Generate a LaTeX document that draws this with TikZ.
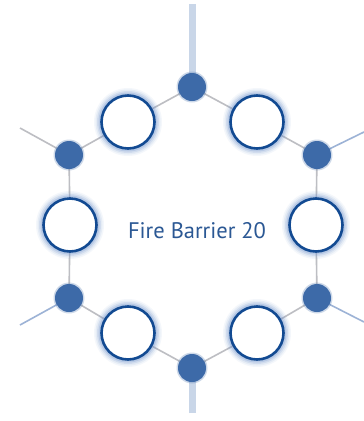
\documentclass[tikz,border=0pt]{standalone}
\usepackage{fontspec}
\setmainfont{PT Sans}
\definecolor{dotblue}{HTML}{3D6AA8}
\definecolor{ringblue}{HTML}{124A92}
\definecolor{glowblue}{HTML}{6F93CC}
\definecolor{textblue}{HTML}{2B5894}
\definecolor{linkgrey}{HTML}{BDBEC3}
\definecolor{stemblue}{HTML}{C9D6E8}
\definecolor{spokeblue}{HTML}{9DB3D6}
\tikzset{
  bigc/.style={circle, draw=ringblue, line width=2.6pt, fill=white, minimum size=53pt, inner sep=0pt},
  smalld/.style={circle, fill=dotblue, minimum size=28pt, inner sep=0pt},
  link/.style={draw=linkgrey, line width=1.6pt},
  stem/.style={draw=stemblue, line width=7pt},
  spoke/.style={draw=spokeblue, line width=1.6pt},
  spokeg/.style={draw=linkgrey, line width=1.6pt},
}
\begin{document}
\begin{tikzpicture}[x=1pt,y=-1pt]
\useasboundingbox[fill=white] (0,0) rectangle (364,421);
% positions
\coordinate (pT) at (192,87);
\coordinate (pTL) at (128,122);
\coordinate (pTR) at (257,122);
\coordinate (pL) at (69,155);
\coordinate (pR) at (317,155);
\coordinate (pCL) at (70,225);
\coordinate (pCR) at (316,225);
\coordinate (pLL) at (69,298);
\coordinate (pLR) at (317,298);
\coordinate (pBL) at (128,333);
\coordinate (pBR) at (257,333);
\coordinate (pB) at (192,368);
% free ends
\coordinate (eT) at (192,4);
\coordinate (eB) at (192,413);
\coordinate (eUL) at (20,128);
\coordinate (eLL) at (20,325);
\coordinate (eUR) at (364,132);
\coordinate (eLR) at (364,322);
% stems and spokes
\draw[stem] (eT) -- (pT);
\draw[stem] (eB) -- (pB);
\draw[spokeg] (eUL) -- (pL);
\draw[spoke] (eLL) -- (pLL);
\draw[spoke] (eUR) -- (pR);
\draw[spoke] (eLR) -- (pLR);
% ring links
\draw[link] (pT) -- (pTL) -- (pL) -- (pCL) -- (pLL) -- (pBL) -- (pB) -- (pBR) -- (pLR) -- (pCR) -- (pR) -- (pTR) -- cycle;
% glow
\foreach \p in {pTL,pTR,pCL,pCR,pBL,pBR}{
  \foreach \r/\o in {34/0.07,32.5/0.11,31/0.17,29.5/0.26}{
    \fill[glowblue, opacity=\o] (\p) circle (\r);
  }
}
\foreach \p in {pT,pL,pR,pLL,pLR,pB}{
  \fill[dotblue, opacity=0.25] (\p) circle (15.5);
}
% nodes
\node[smalld] (nT) at (pT) {};
\node[smalld] (nL) at (pL) {};
\node[smalld] (nR) at (pR) {};
\node[smalld] (nLL) at (pLL) {};
\node[smalld] (nLR) at (pLR) {};
\node[smalld] (nB) at (pB) {};
\node[bigc] (cTL) at (pTL) {};
\node[bigc] (cTR) at (pTR) {};
\node[bigc] (cL) at (pCL) {};
\node[bigc] (cR) at (pCR) {};
\node[bigc] (cBL) at (pBL) {};
\node[bigc] (cBR) at (pBR) {};
\node[text=textblue, font=\fontsize{22.5}{26}\selectfont, inner sep=0pt] (lbl) at (197,231) {Fire Barrier 20};
\end{tikzpicture}
\end{document}
